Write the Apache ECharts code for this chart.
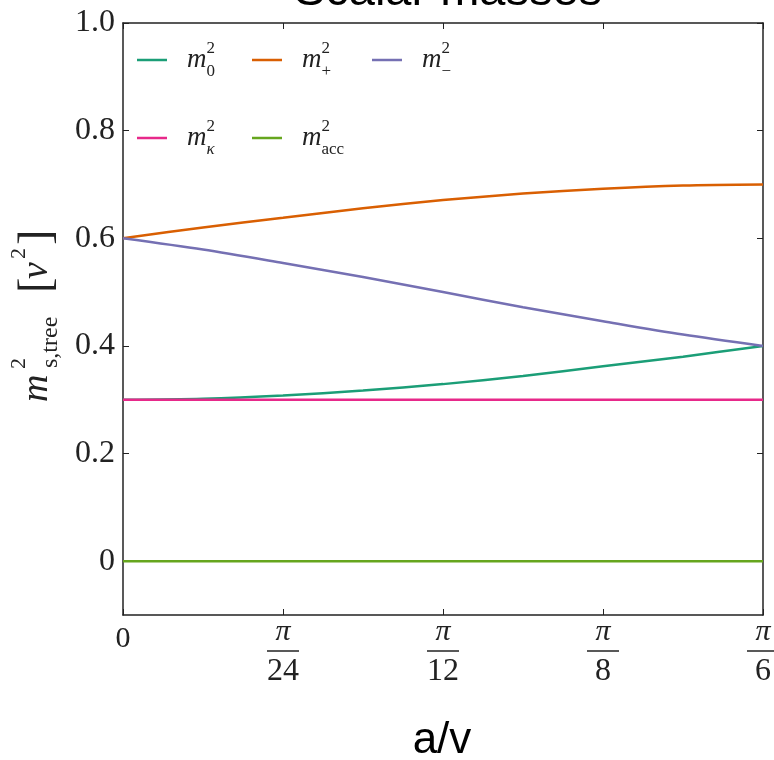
<!DOCTYPE html>
<html>
<head>
<meta charset="utf-8">
<script src="https://cdn.jsdelivr.net/npm/echarts@6/dist/echarts.min.js"></script>
<style>
  html, body { margin: 0; padding: 0; background: #fff; }
  #main { width: 774px; height: 760px; }
</style>
</head>
<body>
<div id="main"></div>
<script>
// a/v, in units of pi/24
var aSteps = [0, 0.5, 1, 1.5, 2, 2.5, 3, 3.5, 4];
var m0Sq = [0.300, 0.302, 0.308, 0.317, 0.329, 0.344, 0.362, 0.380, 0.400];
var mPlusSq = [0.600, 0.620, 0.638, 0.656, 0.671, 0.683, 0.692, 0.698, 0.700];
var mMinusSq = [0.600, 0.579, 0.554, 0.528, 0.500, 0.472, 0.446, 0.421, 0.400];
var mKappaSq = [0.300, 0.300, 0.300, 0.300, 0.300, 0.300, 0.300, 0.300, 0.300];
var mAccSq = [0, 0, 0, 0, 0, 0, 0, 0, 0];

// denominators of the pi/n ticks
var xTickDenoms = ['', '24', '12', '8', '6'];
var yTicks = [0, 0.2, 0.4, 0.6, 0.8, 1.0];

var seriesNames = ['m0', 'mplus', 'mminus', 'mkappa', 'macc'];
var seriesColors = ['#1b9e77', '#d95f02', '#7570b3', '#e7298a', '#66a61e'];
var seriesValues = [m0Sq, mPlusSq, mMinusSq, mKappaSq, mAccSq];
var legendSubs = ['0', '+', '\u2212', '\u03ba', 'acc'];

var serif = '"Liberation Serif", "DejaVu Serif", serif';
var sans = '"Liberation Sans", Arial, sans-serif';
var ink = '#222';

var chart = echarts.init(document.getElementById('main'));

var series = [];
for (var i = 0; i < seriesNames.length; i++) {
	var vals = seriesValues[i];
	series.push({
		name : seriesNames[i],
		type : 'line',
		smooth : 0.3,
		showSymbol : false,
		symbol : 'none',
		animation : false,
		lineStyle : { width : 2.5, color : seriesColors[i] },
		itemStyle : { color : seriesColors[i] },
		data : aSteps.map(function(a, k) { return [a, vals[k]]; })
	});
}

var legendRich = {
	m : { fontFamily : serif, fontStyle : 'italic', fontSize : 27, lineHeight : 40, color : ink, padding : [0, 0, 0, 15] },
	sup : { fontFamily : serif, fontSize : 17, lineHeight : 26, verticalAlign : 'top', width : 0, color : ink },
	sub : { fontFamily : serif, fontSize : 17, lineHeight : 22, verticalAlign : 'bottom', color : ink },
	subi : { fontFamily : serif, fontStyle : 'italic', fontSize : 17, lineHeight : 22, verticalAlign : 'bottom', color : ink }
};

// one legend block per item so every entry sits where it should
var legendPos = [[137, 40], [252, 40], [372, 40], [137, 118], [252, 118]];
var legends = [];
for (var i = 0; i < seriesNames.length; i++) {
	(function(idx) {
		legends.push({
			data : [seriesNames[idx]],
			left : legendPos[idx][0],
			top : legendPos[idx][1],
			padding : 0,
			icon : 'rect',
			itemWidth : 30,
			itemHeight : 2.5,
			selectedMode : false,
			formatter : function() {
				var s = legendSubs[idx];
				var tag = s === '\u03ba' ? 'subi' : 'sub';
				return '{m|m}{sup|2}{' + tag + '|' + s + '}';
			},
			textStyle : { rich : legendRich }
		});
	})(i);
}

var frameLine = { onZero : false, lineStyle : { color : ink, width : 1.5 } };

var option = {
	backgroundColor : '#fff',
	animation : false,
	grid : {
		left : 123,
		right : 11,
		top : 23,
		bottom : 145,
		outerBoundsMode : 'none'
	},
	legend : legends,
	xAxis : [ {
		type : 'value',
		min : 0,
		max : 4,
		interval : 1,
		position : 'bottom',
		splitLine : { show : false },
		axisLine : frameLine,
		axisTick : { inside : true, length : 6, lineStyle : { color : ink } },
		axisLabel : {
			margin : 2,
			color : ink,
			formatter : function(v) {
				if (v === 0) {
					return '{z|0}';
				}
				return '{p|\u03c0}\n{bar|\u00a0}\n{d|' + xTickDenoms[Math.round(v)] + '}';
			},
			rich : {
				z : { fontFamily : serif, fontSize : 30, lineHeight : 44, color : ink },
				p : { fontFamily : serif, fontStyle : 'italic', fontSize : 30, lineHeight : 30, color : ink, align : 'center' },
				bar : { width : 32, height : 1.5, lineHeight : 8, backgroundColor : ink, align : 'center', fontSize : 2 },
				d : { fontFamily : serif, fontSize : 32, lineHeight : 34, color : ink, align : 'center' }
			}
		}
	}, {
		type : 'value',
		min : 0,
		max : 4,
		interval : 1,
		position : 'top',
		splitLine : { show : false },
		axisLine : frameLine,
		axisTick : { inside : true, length : 6, lineStyle : { color : ink } },
		axisLabel : { show : false }
	} ],
	yAxis : [ {
		type : 'value',
		min : -0.1,
		max : 1.0,
		position : 'left',
		splitLine : { show : false },
		axisLine : { show : true, onZero : false, lineStyle : { color : ink, width : 1.5 } },
		axisTick : { show : true, inside : true, length : 6, customValues : yTicks, lineStyle : { color : ink } },
		axisLabel : {
			customValues : yTicks,
			margin : 8,
			color : ink,
			fontFamily : serif,
			fontSize : 32,
			formatter : function(v) {
				return Math.abs(v) < 1e-9 ? '0' : v.toFixed(1);
			}
		}
	}, {
		type : 'value',
		min : -0.1,
		max : 1.0,
		position : 'right',
		splitLine : { show : false },
		axisLine : { show : true, onZero : false, lineStyle : { color : ink, width : 1.5 } },
		axisTick : { show : true, inside : true, length : 6, customValues : yTicks, lineStyle : { color : ink } },
		axisLabel : { show : false }
	} ],
	graphic : [ {
		type : 'text',
		x : 448,
		y : -8,
		style : { text : 'Scalar masses', font : '47px ' + sans, fill : '#000', align : 'center', verticalAlign : 'middle' }
	}, {
		type : 'text',
		x : 442,
		y : 741,
		style : { text : 'a/v', font : '44px ' + sans, fill : '#000', align : 'center', verticalAlign : 'middle' }
	}, {
		// y axis name, built piece by piece so the sub/superscripts stack
		type : 'group',
		x : 48,
		y : 322,
		rotation : Math.PI / 2,
		children : [
			{ type : 'text', x : -80, y : -11, style : { text : 'm', font : 'italic 38px ' + serif, fill : ink, align : 'left', verticalAlign : 'middle' } },
			{ type : 'text', x : -47, y : -29, style : { text : '2', font : '22px ' + serif, fill : ink, align : 'left', verticalAlign : 'middle' } },
			{ type : 'text', x : -46, y : 3, style : { text : 's,tree', font : '24px ' + serif, fill : ink, align : 'left', verticalAlign : 'middle' } },
			{ type : 'text', x : 29, y : -10, style : { text : '[', font : '46px ' + serif, fill : ink, align : 'left', verticalAlign : 'middle' } },
			{ type : 'text', x : 43, y : -11, style : { text : 'v', font : 'italic 38px ' + serif, fill : ink, align : 'left', verticalAlign : 'middle' } },
			{ type : 'text', x : 63, y : -29, style : { text : '2', font : '22px ' + serif, fill : ink, align : 'left', verticalAlign : 'middle' } },
			{ type : 'text', x : 77, y : -10, style : { text : ']', font : '46px ' + serif, fill : ink, align : 'left', verticalAlign : 'middle' } }
		]
	} ],
	series : series
};

chart.setOption(option);
</script>
</body>
</html>
